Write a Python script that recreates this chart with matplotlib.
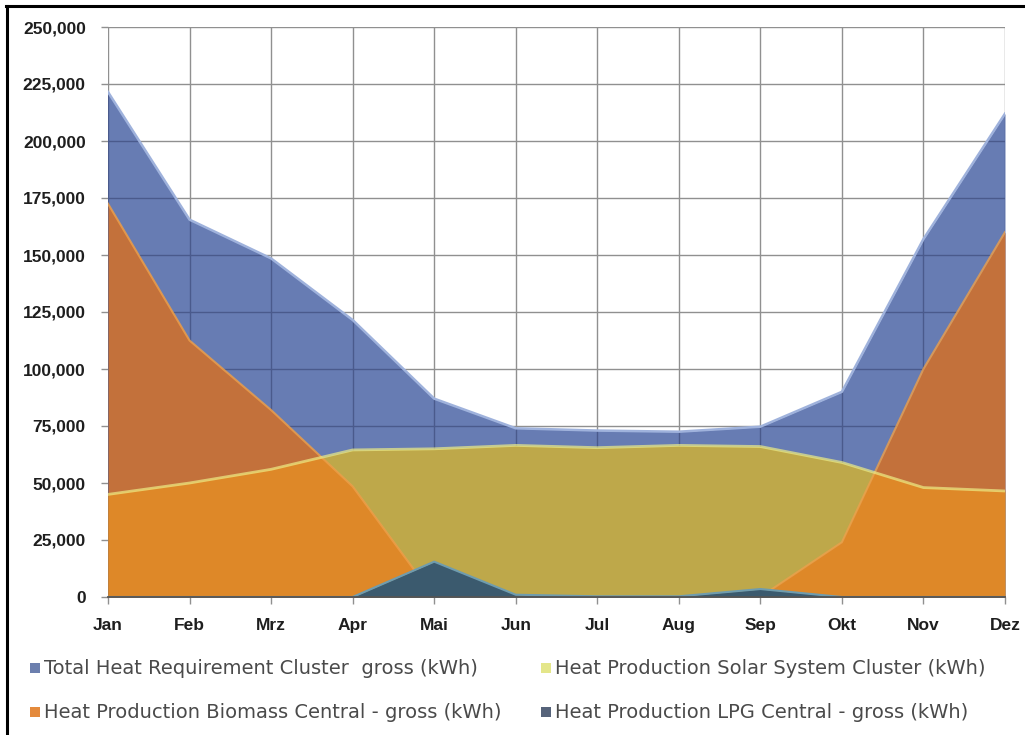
import matplotlib
matplotlib.use("Agg")
import matplotlib.pyplot as plt
import numpy as np
from matplotlib.lines import Line2D
from matplotlib.patches import Rectangle

months = ['Jan', 'Feb', 'Mrz', 'Apr', 'Mai', 'Jun', 'Jul', 'Aug', 'Sep', 'Okt', 'Nov', 'Dez']
total_heat = [221500, 165500, 148500, 121500, 87000, 74000, 73000, 72500, 74700, 90000, 157000, 212000]
solar_heat = [45000, 50000, 56000, 64500, 65000, 66500, 65500, 66500, 66000, 59000, 48000, 46500]
biomass_heat = [172500, 112500, 82000, 48500, 0, 0, 0, 0, 0, 24000, 100000, 160000]
lpg_heat = [0, 0, 0, 0, 15500, 1000, 300, 300, 3500, 0, 0, 0]
series_labels = ['Total Heat Requirement Cluster  gross (kWh)',
                 'Heat Production Solar System Cluster (kWh)',
                 'Heat Production Biomass Central - gross (kWh)',
                 'Heat Production LPG Central - gross (kWh)']
y_ticks = list(range(0, 250001, 25000))

x = np.arange(len(months))

fig = plt.figure(figsize=(10.25, 7.35), dpi=100)
ax = fig.add_axes([108 / 1025, 138 / 735, 897 / 1025, 570 / 735])

BLUE = '#677cb3'
BLUE_EDGE = '#9fb2dc'
OLIVE = '#bea84a'
YELLOW_EDGE = '#ecec86'
BROWN = '#c3713b'
ORANGE = '#de8828'
ORANGE_EDGE = '#eea04a'
LPG = '#3b5a6e'
LPG_EDGE = '#6f9cae'

# total requirement (back layer)
blue = ax.fill_between(x, 0, total_heat, color=BLUE, lw=0, zorder=1)
blue_path = blue.get_paths()[0]

# grid lines showing darker through the blue area
gl_v = ax.vlines(x, 0, 250000, colors='#4a5a8c', lw=1.0, zorder=1.1)
gl_h = ax.hlines(y_ticks, 0, 11, colors='#4a5a8c', lw=1.0, zorder=1.1)
for c in (gl_v, gl_h):
    c.set_clip_path(blue_path, ax.transData)
ax.plot(x, total_heat, color=BLUE_EDGE, lw=1.8, zorder=1.2, solid_joinstyle='round')

# solar production
solar = ax.fill_between(x, 0, solar_heat, color=OLIVE, lw=0, zorder=2)
solar_path = solar.get_paths()[0]

# biomass production: darker over the requirement, brighter where it meets solar
ax.fill_between(x, 0, biomass_heat, color=BROWN, lw=0, zorder=3)
bright = ax.fill_between(x, 0, biomass_heat, color=ORANGE, lw=0, zorder=3.1)
bright.set_clip_path(solar_path, ax.transData)
ax.plot(x, biomass_heat, color=ORANGE_EDGE, lw=1.5, zorder=3.2, alpha=0.8)
ax.plot(x, solar_heat, color=YELLOW_EDGE, lw=2.0, zorder=3.3, alpha=0.7)

# LPG production
ax.fill_between(x, 0, lpg_heat, color=LPG, lw=0, zorder=4)
ax.plot(x, lpg_heat, color=LPG_EDGE, lw=1.5, zorder=4.1)

ax.set_xlim(0, 11)
ax.set_ylim(0, 250000)
ax.set_xticks(x)
ax.set_xticklabels(months)
ax.set_yticks(y_ticks)
ax.set_yticklabels([f'{v:,}' for v in y_ticks])
ax.grid(True, color='#909090', lw=1.0)
ax.set_axisbelow(True)
for s in ('top', 'right', 'left'):
    ax.spines[s].set_visible(False)
ax.spines['bottom'].set_color('#555555')
ax.spines['bottom'].set_linewidth(1.3)
ax.spines['bottom'].set_zorder(5)
ax.tick_params(axis='both', length=5, width=1, color='#909090',
               labelsize=12.5, labelcolor='#1e1e1e')
ax.tick_params(axis='y', pad=11)
ax.tick_params(axis='x', pad=10)
for lab in ax.get_xticklabels() + ax.get_yticklabels():
    lab.set_fontweight('bold')
    lab.set_family(['Liberation Sans', 'DejaVu Sans'])

# legend
legend_colors = ['#6c7fae', '#e4e68a', '#e48a3c', '#56637a']
legend_pos = [(30, 668), (541, 668), (30, 712), (541, 712)]
for lab, col, (px, py) in zip(series_labels, legend_colors, legend_pos):
    fig.patches.append(Rectangle((px / 1025, 1 - (py + 5) / 735), 10 / 1025, 10 / 735,
                                 transform=fig.transFigure, facecolor=col,
                                 edgecolor='none'))
    fig.text((px + 14) / 1025, 1 - py / 735, lab, fontsize=14, color='#4a4a4a',
             family=['DejaVu Sans'], va='center', ha='left')

# frame of the picture
fig.add_artist(Line2D([7 / 1025, 7 / 1025], [0, 1 - 6 / 735], transform=fig.transFigure,
                      color='black', lw=2.2))
fig.add_artist(Line2D([6 / 1025, 1], [1 - 6 / 735, 1 - 6 / 735], transform=fig.transFigure,
                      color='black', lw=2.2))

fig.savefig('out.png', dpi=100)
